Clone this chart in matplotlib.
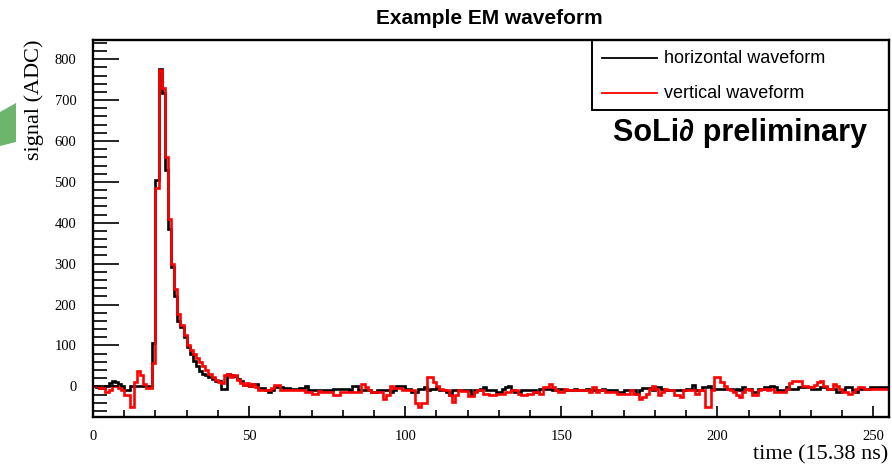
import numpy as np
import matplotlib
matplotlib.use("Agg")
import matplotlib.pyplot as plt
from matplotlib.ticker import MultipleLocator
from matplotlib.patches import Polygon, Rectangle
from matplotlib.lines import Line2D

# sampled waveform, one value per 15.38 ns bin
horizontal = [
    0, -2, -4, -4, 2, 8, 12, 10, 5, 2,
    -8, -8, 2, 2, 2, 2, 2, 0, -2, 106,
    505, 776, 718, 530, 385, 292, 222, 160, 145, 120,
    95, 78, 62, 50, 38, 30, 27, 22, 18, 14,
    12, -6, -6, 30, 27, 25, 18, 12, 4, 3,
    0, 5, 5, -4, -4, -8, -15, -8, -2, -2,
    -2, -4, -4, -7, -7, -7, -4, -4, 0, -8,
    -8, -8, -8, -10, -10, -10, -10, -7, -7, -7,
    -7, -7, -10, 0, 2, -8, -8, -10, -10, -15,
    -15, -8, -8, -10, -10, -15, -8, 0, 0, 0,
    -7, -7, -14, -14, -6, -6, -2, -10, -6, -6,
    -2, -10, -10, -14, -22, -10, -10, -10, -10, -10,
    -10, -18, -10, -10, -6, -2, -10, -10, -10, -14,
    -14, -6, -2, 2, -10, -14, -14, -10, -10, -10,
    -10, -10, -14, -6, -6, -6, -6, -10, -10, -6,
    -6, -10, -10, -10, -6, -8, -8, -8, -6, -8,
    -8, -8, -8, -6, -8, -8, -8, -10, -14, -14,
    -8, -8, -10, -10, -18, -8, -4, -4, -4, -8,
    -2, -2, -6, -8, -8, -8, -8, -8, -8, -8,
    -6, -6, 3, -8, -10, -2, -2, 2, -6, -6,
    -6, -6, -6, -6, -6, -10, -6, -10, -2, -6,
    -6, -14, -14, -6, -6, -2, -2, 2, -2, -10,
    -10, -10, -2, -6, -6, -6, -2, -2, -2, -2,
    -6, -6, -6, -2, -2, -6, -6, -6, -14, -14,
    -10, -2, -2, -10, -14, -6, -6, -6, -6, -2,
    -2, -2, -2, -2, -2,
]
vertical = [
    2, 2, -5, -5, -13, -8, 0, 2, -4, -10,
    -22, -22, -51, 10, 37, 27, 6, -5, -5, 56,
    485, 774, 730, 562, 410, 300, 237, 178, 150, 125,
    100, 88, 80, 70, 60, 50, 40, 30, 22, 15,
    10, 7, 28, 30, 24, 28, 15, 8, 4, 7,
    2, 5, -2, -8, -8, -8, -8, -4, 3, 3,
    -8, -8, -8, -8, -10, -10, -10, -10, -15, -15,
    -18, -18, -12, -15, -15, -15, -15, -20, -20, -15,
    -15, -15, -15, -15, -15, -15, 5, -2, -10, -15,
    -15, -15, -15, -30, -20, 0, -5, -5, -5, -10,
    -10, -10, -10, -40, -50, -40, -40, 23, 23, 10,
    2, -6, -10, -10, -22, -38, -22, -10, -12, -12,
    -24, -24, -14, -10, -10, -18, -18, -22, -22, -18,
    -18, -18, -14, -14, -10, -10, -18, -22, -22, -18,
    -18, -14, -14, -18, -2, -2, 6, -2, -10, -14,
    -14, -6, -10, -10, -10, -10, -10, -10, -10, -14,
    -2, -14, -10, -10, -14, -14, -14, -14, -18, -18,
    -18, -18, -10, -18, -18, -30, -26, -18, -6, 2,
    -6, -22, -14, -6, -10, -10, -22, -22, -26, -10,
    -10, -10, -10, -18, -10, -10, -51, -51, -10, 23,
    23, 10, 2, -6, -10, -14, -22, -26, -14, -6,
    -10, -22, -20, -10, -6, -6, -10, -6, -14, -14,
    -14, -14, -6, 8, 14, 14, 14, 2, 2, -2,
    -2, 3, 10, 14, 2, -6, -6, 6, 2, -6,
    -14, -14, -18, -14, -6, -2, -2, -6, -6, -6,
    -6, -6, -6, -6, -6,
]
edges = np.arange(len(horizontal) + 1)

serif = "Liberation Serif"
sans = "Liberation Sans"

fig = plt.figure(figsize=(8.92, 4.66), dpi=100)
ax = fig.add_axes([93 / 892, 1 - 417 / 466, 796 / 892, 377 / 466])

ax.stairs(horizontal, edges, color="black", lw=1.9, baseline=None)
ax.stairs(vertical, edges, color="red", lw=1.9, baseline=None)

ax.set_xlim(0, 255)
ax.set_ylim(-75, 847)

ax.xaxis.set_major_locator(MultipleLocator(50))
ax.xaxis.set_minor_locator(MultipleLocator(10))
ax.yaxis.set_major_locator(MultipleLocator(100))
ax.yaxis.set_minor_locator(MultipleLocator(20))
ax.tick_params(axis="both", which="both", direction="in", top=False, right=False, width=1.2, color="black")
ax.tick_params(axis="y", which="major", length=19, pad=12)
ax.tick_params(axis="y", which="minor", length=10)
ax.tick_params(axis="x", which="major", length=8, pad=9)
ax.tick_params(axis="x", which="minor", length=5)
for lab in ax.get_xticklabels() + ax.get_yticklabels():
    lab.set_family(serif)
    lab.set_fontsize(10.5)
for sp in ax.spines.values():
    sp.set_linewidth(1.7)

fig.text(489 / 892, 1 - 18 / 466, "Example EM waveform", ha="center", va="center",
         family=sans, fontsize=15, fontweight="bold")
fig.text(34 / 892, 1 - 40 / 466, "signal (ADC)", rotation=90, ha="center", va="top",
         family=serif, fontsize=16)
fig.text(888 / 892, 1 - 455 / 466, "time (15.38 ns)", ha="right", va="center",
         family=serif, fontsize=16)

# legend box drawn by hand, ROOT style
ax.add_patch(Rectangle((0.627, 0.814), 0.373, 0.186, transform=ax.transAxes,
                       fill=False, ec="black", lw=1.4, clip_on=False))
ax.add_line(Line2D([0.639, 0.709], [0.952, 0.952], transform=ax.transAxes, color="black", lw=1.3))
ax.add_line(Line2D([0.639, 0.709], [0.859, 0.859], transform=ax.transAxes, color="red", lw=1.3))
ax.text(0.717, 0.952, "horizontal waveform", transform=ax.transAxes, va="center",
        family=sans, fontsize=13)
ax.text(0.717, 0.859, "vertical waveform", transform=ax.transAxes, va="center",
        family=sans, fontsize=13)
ax.text(0.813, 0.753, "SoLi\u2202 preliminary", transform=ax.transAxes, ha="center", va="center",
        family=[sans, "DejaVu Sans"], fontsize=22, fontweight="bold")

# green marker poking in from the left edge
fig.add_artist(Polygon([(0, 1 - 112 / 466), (16 / 892, 1 - 103 / 466),
                        (16 / 892, 1 - 142 / 466), (0, 1 - 146 / 466)],
                       closed=True, transform=fig.transFigure, fc="#6db56d", ec="none"))

fig.savefig("out.png", dpi=100)
